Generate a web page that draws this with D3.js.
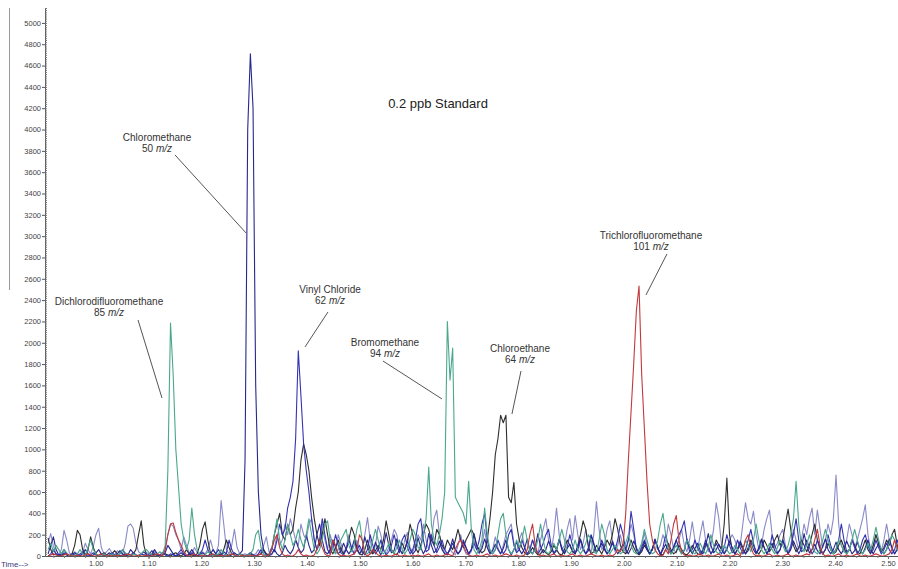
<!DOCTYPE html>
<html>
<head>
<meta charset="utf-8">
<script src="https://cdn.jsdelivr.net/npm/d3@7"></script>
<style>
body { margin: 0; background: #fff; }
svg { display: block; }
</style>
</head>
<body>
<script>
// one scan every ~0.00504 min, first scan at 0.9098 min
const scanStart = 0.9098;
const scanStep = 0.00504;

const lavenderScan = [
    [120,210,90,20,10,60,240,150,30,10,40,20,10,30,120,60,20,90],
    [200,260,80,20,40,70,30,10,50,30,20,120,280,300,260,120,40,20,10,30],
    [20,10,40,20,10,30,60,200,300,280,200,150,60,180,100,30,20,80,30,10],
    [40,20,60,150,60,20,100,520,300,60,20,100,250,80,20,10,20,10,30,10],
    [20,60,20,100,180,40,10,60,200,100,150,300,200,350,250,150,100,300,200,150],
    [300,350,150,60,100,300,150,60,200,100,30,200,120,30,80,200,60,20,150,60],
    [30,200,360,150,30,100,280,200,50,20,80,150,250,200,60,30,150,220,80,40],
    [100,200,150,300,150,60,150,350,430,200,80,30,20,60,30,10,100,200,80,20],
    [10,40,150,60,20,100,250,80,20,60,180,80,20,100,200,250,300,120,40,150],
    [220,80,20,60,150,60,20,150,250,350,150,40,200,450,200,60,100,250,350,150],
    [380,200,60,120,250,100,30,200,510,250,60,100,250,330,150,40,100,200,80,30],
    [150,300,200,60,20,100,220,80,20,60,150,60,100,200,120,300,200,60,30,150],
    [250,100,40,150,320,150,60,200,330,150,40,100,250,500,350,100,30,80,150,200],
    [150,60,100,300,500,350,300,420,200,60,100,250,350,430,200,80,120,200,250,100],
    [40,100,250,150,60,150,300,200,350,450,200,430,250,80,150,300,200,350,760,300],
    [100,40,150,300,200,80,150,250,350,480,200,60,100,200,120,40,150,300,150,60],
    [20,80,150]
].flat();

const blackScan = [
    [170,60,10,20,0,10,20,10,0,20,100,240,200,60,10,60,180,80],
    [20,0,10,30,10,0,20,50,20,0,10,20,10,0,20,60,200,330,100,10],
    [0,10,20,10,0,10,20,10,0,20,30,10,0,20,60,20,10,0,20,100],
    [250,320,150,30,10,0,20,10,60,150,80,20,10,0,20,10,0,10,20,10],
    [0,10,20,60,20,10,60,200,300,400,200,150,300,200,250,450,600,900,1050,950],
    [800,550,350,200,100,200,350,200,60,20,80,150,60,20,60,150,270,200,60,20],
    [10,60,150,60,20,50,100,60,150,330,200,60,20,10,60,120,60,150,300,200],
    [80,30,100,200,300,250,150,100,250,200,100,60,150,100,60,150,250,150,80,150],
    [200,250,200,100,60,30,50,150,350,600,950,1100,1320,1250,1320,550,500,690,300,150],
    [80,30,10,30,80,40,10,20,60,30,10,40,100,60,20,10,60,150,100,40],
    [20,100,200,330,250,80,20,40,100,60,20,80,150,100,200,350,250,100,40,20],
    [60,150,80,30,10,40,100,60,20,60,150,80,20,10,60,120,60,20,40,100],
    [60,20,10,40,100,60,20,10,50,120,80,20,60,150,100,60,300,730,200,60],
    [20,60,120,60,20,80,150,100,40,20,60,150,100,40,80,150,200,100,150,300],
    [440,250,100,40,80,150,100,40,100,200,300,150,60,20,60,120,60,20,40,100],
    [150,80,20,60,150,100,40,20,80,150,60,20,100,200,120,40,80,150,100,200],
    [250,100,40]
].flat();

const tealScan = [
    [60,120,40,100,60,20,60,30,0,10,0,20,60,20,0,80,150,60],
    [20,0,10,20,0,10,20,0,10,20,60,30,10,0,20,10,0,20,50,60],
    [30,10,0,20,40,20,100,800,2186,1700,1000,650,300,150,60,150,450,200,60,20],
    [0,10,40,20,0,10,20,60,20,0,10,20,10,0,20,10,0,10,20,60],
    [200,240,80,20,0,10,60,200,350,150,60,150,300,200,100,150,250,150,80,200],
    [350,200,60,20,60,150,300,330,150,60,20,60,150,200,250,100,40,100,250,330],
    [150,40,20,60,150,250,150,40,20,60,120,60,20,80,150,60,20,60,150,250],
    [200,80,60,200,350,835,300,150,100,200,350,600,2200,1650,1950,550,500,450,400,300],
    [700,250,60,20,60,150,450,200,60,20,60,200,350,400,200,60,20,60,150,80],
    [150,280,150,40,20,60,150,300,150,40,20,60,120,60,150,250,150,40,20,60],
    [150,60,20,60,120,200,150,40,20,150,300,200,60,20,60,100,60,20,40,120],
    [200,100,40,20,60,120,250,150,60,20,40,150,300,400,200,60,20,60,100,60],
    [20,60,150,100,40,20,60,120,60,20,80,200,100,40,20,60,100,60,20,40],
    [100,60,20,60,150,100,40,150,300,150,60,20,60,120,60,20,80,150,100,40],
    [100,200,350,700,300,100,40,100,200,100,40,20,60,150,250,150,60,20,60,150],
    [100,40,20,60,150,250,150,60,20,60,120,60,150,270,150,60,20,60,120,200],
    [150,60,20]
].flat();

const redScan = [
    [0,10,20,10,0,0,10,20,10,0,0,10,0,0,10,20,10,0],
    [0,10,20,0,0,10,0,0,10,0,0,10,20,10,0,0,10,0,0,10],
    [0,0,10,20,10,0,60,200,300,310,220,150,100,40,10,0,10,20,0,0],
    [10,0,0,10,20,0,0,10,0,0,10,20,10,0,0,10,0,0,10,0],
    [0,10,20,0,0,10,60,150,200,80,20,0,10,0,0,20,60,20,0,10],
    [0,0,10,60,150,80,20,0,10,150,100,20,0,10,0,0,10,20,60,200],
    [150,20,0,20,60,30,10,0,0,10,0,0,10,20,0,0,10,0,0,10],
    [0,10,0,0,10,20,0,0,10,0,0,10,20,10,0,60,120,150,100,40],
    [10,0,0,10,0,0,10,20,0,0,10,0,0,10,20,10,0,0,10,0],
    [0,10,60,200,300,100,20,0,10,0,0,10,20,0,0,10,0,0,10,20],
    [0,0,10,0,0,10,20,10,0,0,10,0,0,10,0,20,60,40,100,400],
    [900,1350,1800,2300,2533,1700,1200,700,300,150,60,20,0,10,60,20,150,300,380,150],
    [40,10,0,10,0,0,10,20,0,0,10,0,0,10,20,0,0,10,0,0],
    [10,20,0,60,150,200,80,20,0,10,0,0,10,20,0,0,10,0,0,10],
    [20,0,0,10,0,0,10,20,10,60,150,250,100,20,0,10,0,0,10,20],
    [0,0,10,0,0,10,20,0,0,10,0,0,10,20,10,0,0,10,20,60],
    [150,80,20]
].flat();

const navyScan = [
    [20,100,180,60,10,20,60,20,0,10,30,10,0,20,60,20,0,10],
    [30,60,20,0,10,30,10,0,20,50,20,0,10,60,30,10,0,20,40,10],
    [0,20,60,20,0,10,30,100,60,20,0,10,30,10,0,20,60,20,0,10],
    [30,10,0,20,60,20,0,10,40,20,0,10,30,10,20,50,900,4000,4710,4200],
    [1600,600,200,50,10,0,20,60,20,0,30,100,50,20,60,150,80,30,60,200],
    [100,30,60,200,300,150,40,20,60,150,80,20,50,120,60,20,60,150,80,20],
    [60,180,90,20,40,130,60,10,80,220,100,30,50,160,70,20,60,140,60,20],
    [50,170,80,20,70,210,100,30,60,140,60,20,10,70,160,60,20,50,130,80],
    [20,60,210,100,30,70,160,80,20,50,110,60,20,70,150,60,10,60,130,60],
    [20,70,160,50,20,80,210,90,30,60,140,80,20,50,160,60,20,70,110,50],
    [20,90,160,80,20,50,190,110,30,70,120,60,20,50,140,70,20,60,110,60],
    [20,70,140,80,20,50,130,60,20,70,160,80,10,60,110,50,20,90,150,70],
    [20,50,160,80,20,70,120,50,20,90,210,100,30,60,110,60,20,60,140,80],
    [20,60,140,80,20,50,130,60,20,80,160,80,20,70,120,50,20,60,150,70],
    [20,60,140,80,20,70,210,100,30,60,110,50,20,90,160,60,20,60,130,60],
    [20,70,140,80,20,50,130,60,20,80,150,60,20,70,110,60,20,60,160,80],
    [20,60,120]
].flat();

const blueScan = [
    [0,20,60,20,0,10,30,10,0,20,10,0,20,40,10,0,10,30],
    [10,0,20,10,0,10,30,10,0,20,60,20,0,10,30,10,0,20,10,0],
    [20,50,20,0,10,30,10,0,20,10,0,30,60,20,0,10,30,10,0,20],
    [60,150,60,10,0,20,60,20,0,30,150,60,10,0,20,10,0,10,30,10],
    [0,20,60,20,0,20,80,40,150,300,200,250,450,550,700,1100,1925,1500,1050,800],
    [600,350,150,60,150,350,200,60,20,80,200,100,30,10,60,150,80,20,60,100],
    [40,10,60,200,100,20,60,150,60,10,40,100,200,100,30,150,200,80,20,60],
    [150,300,350,150,40,60,200,100,30,80,150,60,20,60,120,60,20,60,150,80],
    [20,60,120,60,150,300,400,150,40,20,60,150,80,20,60,200,250,100,30,60],
    [150,80,20,60,150,80,20,60,120,200,250,100,30,60,150,80,30,80,200,100],
    [30,60,150,60,20,80,200,120,40,60,150,80,20,60,120,60,150,300,200,60],
    [150,420,250,60,20,80,150,80,20,60,150,80,20,80,200,100,30,60,150,200],
    [250,330,150,40,60,150,80,20,60,150,80,20,60,120,60,20,80,200,100,30],
    [60,150,80,20,60,150,250,120,30,60,150,80,20,60,200,100,30,60,150,80],
    [20,80,200,350,150,40,60,150,80,20,60,150,80,20,60,200,100,30,60,150],
    [300,150,40,60,150,80,20,60,150,200,100,30,60,150,80,20,60,120,60,20],
    [60,150,80]
].flat();

const yTicks = [0,200,400,600,800,1000,1200,1400,1600,1800,2000,2200,2400,2600,2800,
    3000,3200,3400,3600,3800,4000,4200,4400,4600,4800,5000];
const xTicks = [1.0,1.1,1.2,1.3,1.4,1.5,1.6,1.7,1.8,1.9,2.0,2.1,2.2,2.3,2.4,2.5];

// peak labels, positions in (min, abundance)
const compoundNames = ["Dichlorodifluoromethane","Chloromethane","Vinyl Chloride","Bromomethane","Chloroethane","Trichlorofluoromethane"];
const compoundMz = [85, 50, 62, 94, 64, 101];
const labelTime = [1.0252, 1.1161, 1.4436, 1.5477, 1.8033, 2.0513];
const labelAbund = [2355, 3893, 2467, 1970, 1914, 2974];
const leaderFrom = [[1.0801,2214],[1.1501,3762],[1.4398,2289],[1.5439,1829],[1.8052,1735],[2.0816,2833]];
const leaderTo = [[1.1255,1482],[1.2846,3030],[1.3963,1961],[1.6556,1473],[1.7881,1332],[2.0418,2448]];

const width = 898, height = 569;

const svg = d3.select("body")
    .append("svg")
    .attr("width", width)
    .attr("height", height)
    .style("font-family", "Arial, 'Liberation Sans', sans-serif");

const x = d3.scaleLinear().domain([0.904, 2.519]).range([45, 898]);
const y = d3.scaleLinear().domain([0, 5140]).range([556, 8]);

// left frame line
svg.append("line")
    .attr("x1", 9.5).attr("x2", 9.5)
    .attr("y1", 8).attr("y2", 290)
    .attr("stroke", "#999")
    .attr("stroke-width", 1);

const line = d3.line()
    .x((v, i) => x(scanStart + i * scanStep))
    .y(v => y(v));

const traces = [
    { values: lavenderScan, color: "#8a8ac8" },
    { values: blackScan, color: "#2e2e2e" },
    { values: blueScan, color: "#3434b2" },
    { values: navyScan, color: "#27278c" },
    { values: tealScan, color: "#4ba78d" },
    { values: redScan, color: "#c2393b" }
];

svg.append("g")
    .selectAll("path")
    .data(traces)
    .join("path")
    .attr("d", d => line(d.values))
    .attr("fill", "none")
    .attr("stroke", d => d.color)
    .attr("stroke-width", 1.1)
    .attr("stroke-linejoin", "round");

// y axis
const yAxis = svg.append("g")
    .attr("transform", "translate(45,0)")
    .call(d3.axisLeft(y).tickValues(yTicks).tickSize(3).tickSizeOuter(0).tickPadding(1).tickFormat(d3.format("d")));
yAxis.select(".domain").attr("stroke", "#555");
yAxis.selectAll(".tick line").attr("stroke", "#555");
yAxis.selectAll("text").attr("font-size", "7.5px").attr("fill", "#444");

svg.append("g")
    .attr("transform", "translate(45,0)")
    .call(d3.axisRight(y).tickValues(d3.range(0, 5141, 20)).tickSize(2).tickFormat(""))
    .call(g => g.select(".domain").remove())
    .selectAll(".tick line").attr("stroke", "#777");

// x axis
const xAxis = svg.append("g")
    .attr("transform", "translate(0,556)")
    .call(d3.axisBottom(x).tickValues(xTicks).tickSize(3).tickSizeOuter(0).tickPadding(2).tickFormat(d3.format(".2f")));
xAxis.select(".domain").attr("stroke", "#555");
xAxis.selectAll(".tick line").attr("stroke", "#555");
xAxis.selectAll("text").attr("font-size", "7.5px").attr("fill", "#444");

svg.append("g")
    .attr("transform", "translate(0,556)")
    .call(d3.axisBottom(x).tickValues(d3.range(0.92, 2.52, 0.02)).tickSize(2).tickFormat(""))
    .call(g => g.select(".domain").remove())
    .selectAll(".tick line").attr("stroke", "#777");

svg.append("text")
    .attr("x", 1)
    .attr("y", 567)
    .text("Time-->")
    .attr("font-size", "8px")
    .attr("fill", "#3b3b78");

// title
svg.append("text")
    .attr("x", x(1.6481))
    .attr("y", y(4203))
    .attr("text-anchor", "middle")
    .attr("font-size", "13px")
    .attr("fill", "#222")
    .text("0.2 ppb Standard");

// peak labels with leader lines
compoundNames.forEach((name, i) => {
    svg.append("line")
        .attr("x1", x(leaderFrom[i][0]))
        .attr("y1", y(leaderFrom[i][1]))
        .attr("x2", x(leaderTo[i][0]))
        .attr("y2", y(leaderTo[i][1]))
        .attr("stroke", "#555")
        .attr("stroke-width", 1);

    const t = svg.append("text")
        .attr("x", x(labelTime[i]))
        .attr("y", y(labelAbund[i]))
        .attr("text-anchor", "middle")
        .attr("font-size", "10px")
        .attr("fill", "#333");
    t.append("tspan").text(name);
    const t2 = t.append("tspan")
        .attr("x", x(labelTime[i]))
        .attr("dy", 11.5)
        .text(compoundMz[i] + " ");
    t2.append("tspan").attr("font-style", "italic").text("m/z");
});
</script>
</body>
</html>
